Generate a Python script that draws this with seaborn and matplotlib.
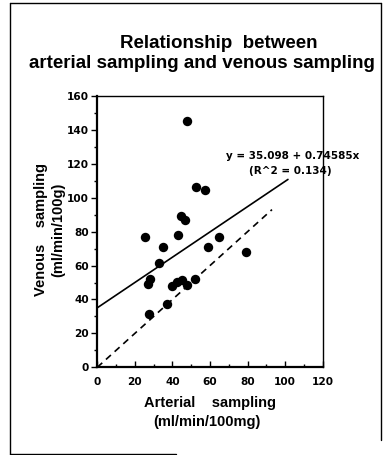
import matplotlib
matplotlib.use("Agg")
import matplotlib.pyplot as plt
import seaborn as sns
import numpy as np
import pandas as pd
from matplotlib.lines import Line2D
from matplotlib.ticker import MultipleLocator

# ---- data ----
arterial = [47.6, 52.5, 57.3, 44.4, 46.6, 25.5, 42.9, 64.6, 34.8, 59.0, 79.3,
            32.8, 28.0, 26.8, 39.6, 42.6, 45.2, 47.6, 52.0, 36.9, 27.5]
venous = [145.2, 106.5, 104.4, 89.4, 86.9, 76.8, 78.0, 77.0, 70.9, 70.8, 67.8,
          61.3, 52.1, 48.9, 48.1, 50.5, 51.5, 48.5, 52.1, 37.1, 31.2]
intercept = 35.098
slope = 0.74585
r_squared = 0.134
fit_x_range = [0, 101.5]
identity_x_range = [0, 93]
x_ticks = [0, 20, 40, 60, 80, 100, 120]
y_ticks = [0, 20, 40, 60, 80, 100, 120, 140, 160]

df = pd.DataFrame({"arterial": arterial, "venous": venous})
fit_df = pd.DataFrame({"x": fit_x_range,
                       "y": [intercept + slope * v for v in fit_x_range]})
id_df = pd.DataFrame({"x": identity_x_range, "y": identity_x_range})

sns.set_theme(style="white")
plt.rcParams['font.family'] = ['Liberation Sans', 'DejaVu Sans']
plt.rcParams['text.color'] = 'black'
plt.rcParams['axes.labelcolor'] = 'black'
plt.rcParams['xtick.color'] = 'black'
plt.rcParams['ytick.color'] = 'black'

W, H = 388, 455
fig = plt.figure(figsize=(W / 100, H / 100), dpi=100)
ax = fig.add_axes([97.3 / W, 1 - 367.3 / H, (322.7 - 97.3) / W, (367.3 - 96) / H])

sns.scatterplot(data=df, x="arterial", y="venous", ax=ax, color="black",
                s=46, edgecolor="black", linewidth=0, zorder=3, legend=False)
sns.lineplot(data=fit_df, x="x", y="y", ax=ax, color="black", linewidth=1.2)
sns.lineplot(data=id_df, x="x", y="y", ax=ax, color="black", linewidth=1.2,
             linestyle=(0, (4, 3)))

ax.set_xlim(0, 120)
ax.set_ylim(0, 160)
ax.set_xticks(x_ticks)
ax.set_yticks(y_ticks)
ax.xaxis.set_minor_locator(MultipleLocator(10))
ax.yaxis.set_minor_locator(MultipleLocator(10))
ax.set_xlabel("")
ax.set_ylabel("")

for side in ["left", "bottom"]:
    ax.spines[side].set_linewidth(1.6)
    ax.spines[side].set_color("black")
for side in ["top", "right"]:
    ax.spines[side].set_linewidth(1.0)
    ax.spines[side].set_color("black")

tickfont = dict(family="DejaVu Sans", weight="bold", size=7.6)
ax.tick_params(axis="x", which="major", direction="in", length=4, width=1,
               color="black", pad=7, bottom=True)
ax.tick_params(axis="x", which="minor", direction="in", length=2, width=1,
               color="black", bottom=True)
ax.tick_params(axis="y", which="major", direction="out", length=4, width=1,
               color="black", pad=2, left=True)
ax.tick_params(axis="y", which="minor", direction="out", length=2, width=1,
               color="black", left=True)
for lab in ax.get_xticklabels() + ax.get_yticklabels():
    lab.set_fontproperties(tickfont)
    lab.set_color("black")

# equation annotation
ax.text(104, 124.8, f"y = {intercept:.3f} + {slope:.5f}x", ha="center",
        va="center", fontsize=7.5, fontweight="bold", clip_on=False,
        family="DejaVu Sans", color="black")
ax.text(103, 115.5, f"(R^2 = {r_squared:.3f})", ha="center", va="center",
        fontsize=7.5, fontweight="bold", clip_on=False, family="DejaVu Sans",
        color="black")

# titles and axis labels
fig.text(219 / W, 1 - 43 / H, "Relationship  between", ha="center", va="center",
         fontsize=13.5, fontweight="bold", color="black")
fig.text(201.7 / W, 1 - 63.5 / H, "arterial sampling and venous sampling",
         ha="center", va="center", fontsize=13.5, fontweight="bold", color="black")
fig.text(210 / W, 1 - 403 / H, "Arterial    sampling", ha="center", va="center",
         fontsize=10.5, fontweight="bold", color="black")
fig.text(206.7 / W, 1 - 422 / H, "(ml/min/100mg)", ha="center", va="center",
         fontsize=10.5, fontweight="bold", color="black")
fig.text(41 / W, 1 - 230 / H, "Venous    sampling", ha="center", va="center",
         fontsize=10.5, fontweight="bold", rotation=90, color="black")
fig.text(58 / W, 1 - 230 / H, "(ml/min/100g)", ha="center", va="center",
         fontsize=10.5, fontweight="bold", rotation=90, color="black")

# outer frame
frame_kw = dict(color="black", linewidth=1.0, transform=fig.transFigure)
fig.add_artist(Line2D([10 / W, 10 / W], [1 - 3 / H, 1 - 454 / H], **frame_kw))
fig.add_artist(Line2D([10 / W, 381 / W], [1 - 3 / H, 1 - 3 / H], **frame_kw))
fig.add_artist(Line2D([381 / W, 381 / W], [1 - 3 / H, 1 - 440 / H], **frame_kw))
fig.add_artist(Line2D([10 / W, 176 / W], [1 - 454 / H, 1 - 454 / H], **frame_kw))

fig.savefig("out.png", dpi=100, facecolor="white")
